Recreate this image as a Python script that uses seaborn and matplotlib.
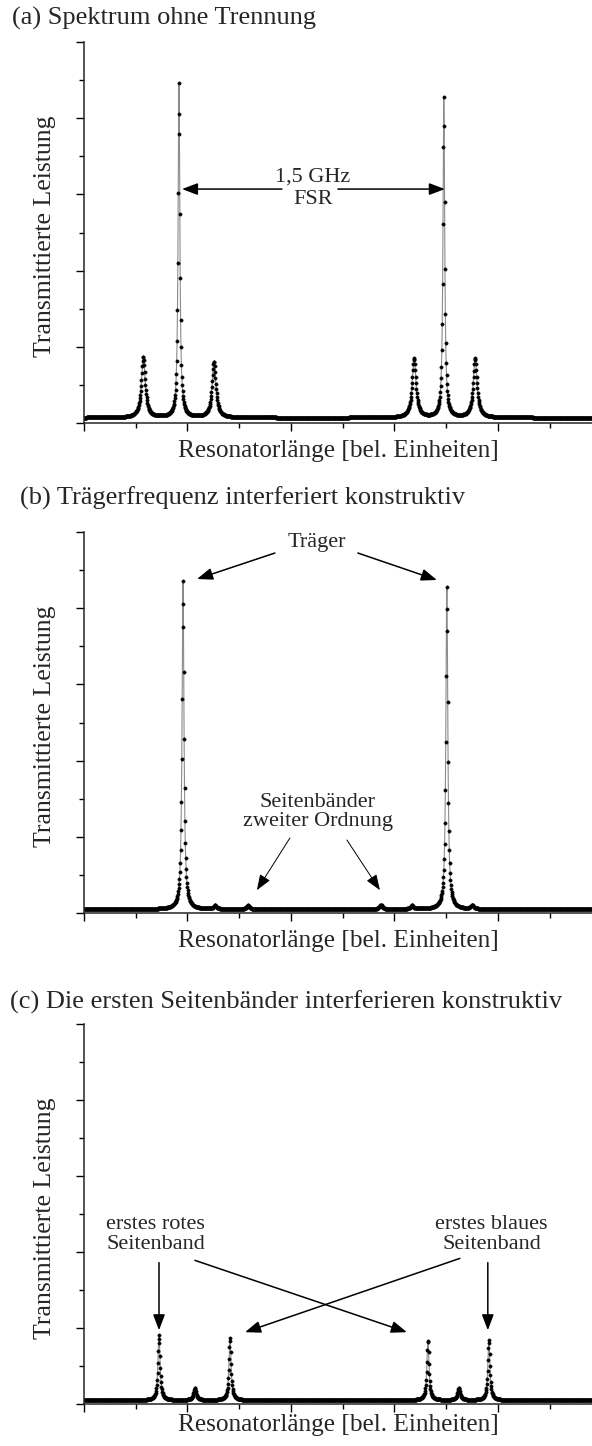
import numpy as np
import pandas as pd
import matplotlib
matplotlib.use("Agg")
import matplotlib.pyplot as plt
import seaborn as sns

sns.set_style("ticks")
plt.rcParams["font.family"] = ["Liberation Serif", "DejaVu Serif"]
plt.rcParams["axes.linewidth"] = 1.1

# Resonator length axis (arbitrary units)
x_min, x_max = 0.0, 4.91
n_samples = 1300

# (a) spectrum without separation: peak centers, peak tops, half widths
a_centers = [0.573, 0.918, 1.256, 3.190, 3.478, 3.780]
a_tops = [0.87, 4.47, 0.80, 0.85, 4.28, 0.85]
a_widths = [0.022, 0.010, 0.022, 0.022, 0.010, 0.022]
a_base = 0.07

# (b) carrier interferes constructively
b_centers = [0.957, 1.266, 1.585, 2.870, 3.170, 3.507, 3.750]
b_tops = [4.37, 0.10, 0.10, 0.11, 0.10, 4.30, 0.10]
b_widths = [0.011, 0.015, 0.015, 0.015, 0.015, 0.011, 0.015]
b_base = 0.05

# (c) first sidebands interfere constructively
c_centers = [0.725, 1.072, 1.411, 3.324, 3.623, 3.913]
c_tops = [0.91, 0.21, 0.87, 0.84, 0.21, 0.84]
c_widths = [0.012, 0.015, 0.012, 0.012, 0.015, 0.012]
c_base = 0.05

titles = ["(a) Spektrum ohne Trennung",
          "(b) Trägerfrequenz interferiert konstruktiv",
          "(c) Die ersten Seitenbänder interferieren konstruktiv"]
xlabel = "Resonatorlänge [bel. Einheiten]"
ylabel = "Transmittierte Leistung"


def spectrum(centers, tops, widths, base):
    x = np.linspace(x_min, x_max, n_samples)
    y = np.full_like(x, base)
    for c, t, w in zip(centers, tops, widths):
        y += (t - base) / (1.0 + ((x - c) / w) ** 2)
    return pd.DataFrame({"x": x, "y": y})


W, H = 592, 1446
fig = plt.figure(figsize=(W / 100, H / 100), dpi=100)

# axes boxes in pixels: (left, top, bottom)
boxes = [(84, 42, 423), (84, 532, 913), (84, 1024, 1404)]
title_pos = [(12, 18), (20, 498), (10, 1002)]
xlabel_off = [28, 28, 21]

datasets = [spectrum(a_centers, a_tops, a_widths, a_base),
            spectrum(b_centers, b_tops, b_widths, b_base),
            spectrum(c_centers, c_tops, c_widths, c_base)]

axes = []
for (l, t, b), df, ttl, (tx, ty), xo in zip(boxes, datasets, titles, title_pos, xlabel_off):
    ax = fig.add_axes([l / W, 1 - b / H, (W - l) / W, (b - t) / H])
    sns.lineplot(data=df, x="x", y="y", ax=ax, color="0.55", linewidth=0.8,
                 marker="o", markersize=2.4, markerfacecolor="k",
                 markeredgecolor="k", markeredgewidth=0.3)
    ax.set_xlim(x_min, x_max)
    ax.set_ylim(0, 5)
    sns.despine(ax=ax)
    ax.set_xticks(np.arange(0, 5, 1.0))
    ax.set_xticks(np.arange(0.5, 5, 1.0), minor=True)
    ax.set_yticks(np.arange(0, 5.01, 1.0))
    ax.set_yticks(np.arange(0.5, 5, 1.0), minor=True)
    ax.tick_params(which="major", direction="out", length=5.8, width=1.0,
                   labelbottom=False, labelleft=False, color="k")
    ax.tick_params(which="minor", direction="out", length=3.4, width=1.0, color="k")
    ax.set_xlabel(xlabel, fontsize=18.2)
    ax.xaxis.label.set_va("center")
    ax.xaxis.set_label_coords(0.5, -xo / (b - t))
    ax.set_ylabel(ylabel, fontsize=18.5)
    ax.yaxis.label.set_va("center")
    ax.yaxis.set_label_coords(-(l - 45) / (W - l), 0.49)
    fig.text(tx / W, 1 - ty / H, ttl, fontsize=19, ha="left", va="center")
    axes.append(ax)

arrow_big = dict(arrowstyle="-|>,head_length=0.95,head_width=0.36",
                 color="k", lw=1.1, mutation_scale=10, shrinkA=0, shrinkB=0)
arrow_thin = dict(arrowstyle="-|>,head_length=0.95,head_width=0.36",
                  color="k", lw=0.7, mutation_scale=10, shrinkA=0, shrinkB=0)

ann_fs = 16

# (a) free spectral range between the two carrier peaks
ax = axes[0]
ax.text(2.213, 3.23, "1,5 GHz", fontsize=ann_fs, ha="center", va="center")
ax.text(2.213, 2.93, "FSR", fontsize=ann_fs, ha="center", va="center")
ax.annotate("", xy=(0.947, 3.07), xytext=(1.913, 3.07), arrowprops=arrow_big)
ax.annotate("", xy=(3.488, 3.07), xytext=(2.454, 3.07), arrowprops=arrow_big)

# (b) carrier and second-order sidebands
ax = axes[1]
ax.text(2.251, 4.86, "Träger", fontsize=ann_fs, ha="center", va="center")
ax.annotate("", xy=(1.092, 4.383), xytext=(1.845, 4.724), arrowprops=arrow_big)
ax.annotate("", xy=(3.411, 4.37), xytext=(2.647, 4.724), arrowprops=arrow_big)
ax.text(2.261, 1.325, "Seitenbänder\nzweiter Ordnung", fontsize=ann_fs,
        ha="center", va="center", linespacing=1.05)
ax.annotate("", xy=(1.671, 0.30), xytext=(1.99, 0.984), arrowprops=arrow_thin)
ax.annotate("", xy=(2.86, 0.30), xytext=(2.541, 0.958), arrowprops=arrow_thin)

# (c) first red and blue sidebands
ax = axes[2]
ax.text(0.69, 2.23, "erstes rotes\nSeitenband", fontsize=ann_fs,
        ha="center", va="center", linespacing=1.05)
ax.text(3.94, 2.23, "erstes blaues\nSeitenband", fontsize=ann_fs,
        ha="center", va="center", linespacing=1.05)
ax.annotate("", xy=(0.725, 0.97), xytext=(0.725, 1.86), arrowprops=arrow_big)
ax.annotate("", xy=(3.903, 0.97), xytext=(3.903, 1.86), arrowprops=arrow_big)
ax.annotate("", xy=(3.121, 0.945), xytext=(1.072, 1.89), arrowprops=arrow_big)
ax.annotate("", xy=(1.556, 0.945), xytext=(3.633, 1.916), arrowprops=arrow_big)

fig.savefig("out.png", dpi=100)
